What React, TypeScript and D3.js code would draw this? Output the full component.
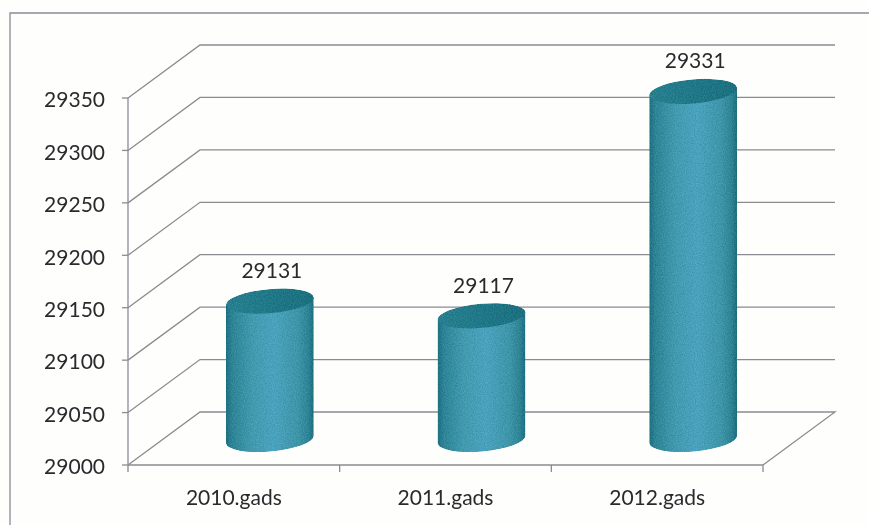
import React from "react";
import * as d3 from "d3";

const years = ["2010.gads", "2011.gads", "2012.gads"];
const values = [29131, 29117, 29331];
const yTicks = [29000, 29050, 29100, 29150, 29200, 29250, 29300, 29350];

const WIDTH = 869;
const HEIGHT = 525;
const DEPTH_X = 72;
const DEPTH_Y = 53;
const RX = 44;
const RY = 12;
const TILT = 5;
const FONT = "Lato, 'Open Sans', sans-serif";
const FONT_SIZE = 21;
const TEXT = "#2b2b2e";
const LINE = "#8e8a92";

const x = d3.scaleBand<string>().domain(years).range([128, 763]);
const y = d3.scaleLinear().domain([29000, 29350]).range([465, 98]);

// edge points of the tilted ellipse, the left one sits lower
const tiltRad = (TILT * Math.PI) / 180;
const dx = RX * Math.cos(tiltRad);
const dy = RX * Math.sin(tiltRad);

function bodyPath(cx: number, top: number, base: number) {
  return `M${cx - dx},${top + dy} L${cx - dx},${base + dy} A${RX},${RY} ${-TILT} 0 0 ${cx + dx},${base - dy} L${cx + dx},${top - dy} Z`;
}

function capPath(cx: number, top: number) {
  return `M${cx - dx},${top + dy} A${RX},${RY} ${-TILT} 1 1 ${cx + dx},${top - dy} A${RX},${RY} ${-TILT} 1 1 ${cx - dx},${top + dy} Z`;
}

const App: React.FC = () => {
  const xTicks = [...years.map(d => x(d)!), 763];

  return (
    <svg width={WIDTH} height={HEIGHT} viewBox={`0 0 ${WIDTH} ${HEIGHT}`} style={{ position: "absolute", left: 0, top: 0, background: "#fefefd" }}>
      <defs>
        <linearGradient id="barFill" x1="0" x2="1" y1="0" y2="0">
          <stop offset="0" stopColor="#1d7080" />
          <stop offset="0.07" stopColor="#2e8496" />
          <stop offset="0.3" stopColor="#429aaf" />
          <stop offset="0.55" stopColor="#4aa2bd" />
          <stop offset="0.82" stopColor="#3e95a8" />
          <stop offset="0.94" stopColor="#2d8394" />
          <stop offset="1" stopColor="#1c6e7d" />
        </linearGradient>
        <linearGradient id="capFill" x1="0" x2="1" y1="0" y2="0">
          <stop offset="0" stopColor="#28808f" />
          <stop offset="0.6" stopColor="#1f7686" />
          <stop offset="1" stopColor="#1c707f" />
        </linearGradient>
        <filter id="scan" x="-2%" y="-2%" width="104%" height="104%">
          <feGaussianBlur stdDeviation="0.6" />
        </filter>
        {/* print grain on the cylinders */}
        <filter id="grain" x="0" y="0" width="100%" height="100%" colorInterpolationFilters="sRGB">
          <feTurbulence type="fractalNoise" baseFrequency="0.9" numOctaves={2} seed={3} result="noise" />
          <feColorMatrix in="noise" type="matrix" values="1 0 0 0 0 1 0 0 0 0 1 0 0 0 0 0 0 0 0 1" result="grey" />
          <feComposite in="SourceGraphic" in2="grey" operator="arithmetic" k1={0} k2={1} k3={0.16} k4={-0.08} result="mixed" />
          <feComposite in="mixed" in2="SourceAlpha" operator="in" />
        </filter>
      </defs>

      <g filter="url(#scan)">
        {/* frame, only top and left are visible */}
        <path d={`M10,${HEIGHT} L10,13 L${WIDTH},13`} fill="none" stroke="#8b8b98" strokeWidth={1.3} />

        {/* back wall and side wall gridlines */}
        {yTicks.map(t => (
          <path
            key={t}
            d={t === 29000
              ? `M128,${y(t)} L${128 + DEPTH_X},${y(t) - DEPTH_Y} L${763 + DEPTH_X},${y(t) - DEPTH_Y} L763,${y(t)}`
              : `M128,${y(t)} L${128 + DEPTH_X},${y(t) - DEPTH_Y} L${763 + DEPTH_X},${y(t) - DEPTH_Y}`}
            fill="none"
            stroke={LINE}
            strokeWidth={1.3}
          />
        ))}

        {/* axes */}
        <line x1={128} x2={128} y1={y(29350)} y2={y(29000)} stroke="#8c8c9c" strokeWidth={1.3} />
        <line x1={128} x2={763} y1={465} y2={465} stroke={LINE} strokeWidth={1.5} />
        {yTicks.map(t => (
          <g key={t}>
            <line x1={122} x2={128} y1={y(t)} y2={y(t)} stroke={LINE} strokeWidth={1.3} />
            <text x={105} y={y(t) + 2} dy="0.35em" textAnchor="end" fontFamily={FONT} fontSize={FONT_SIZE} fill={TEXT}>{t}</text>
          </g>
        ))}
        {xTicks.map(v => (
          <line key={v} x1={v} x2={v} y1={465} y2={472} stroke={LINE} strokeWidth={1.3} />
        ))}
        {years.map(d => (
          <text key={d} x={x(d)! + x.bandwidth() / 2} y={505} textAnchor="middle" fontFamily={FONT} fontSize={FONT_SIZE} fill={TEXT}>{d}</text>
        ))}

        {/* cylinders */}
        {years.map((d, i) => {
          const cx = x(d)! + x.bandwidth() / 2 + DEPTH_X / 2;
          const top = y(values[i]) - DEPTH_Y / 2;
          const base = y(29000) - DEPTH_Y / 2 + 1;
          return (
            <g key={d}>
              <g filter="url(#grain)">
                <path d={bodyPath(cx, top, base)} fill="url(#barFill)" />
                <path d={capPath(cx, top)} fill="url(#capFill)" />
              </g>
              <text x={cx + 2} y={top - 23} textAnchor="middle" fontFamily={FONT} fontSize={FONT_SIZE} fill={TEXT}>{values[i]}</text>
            </g>
          );
        })}
      </g>
    </svg>
  );
};

export default App;
